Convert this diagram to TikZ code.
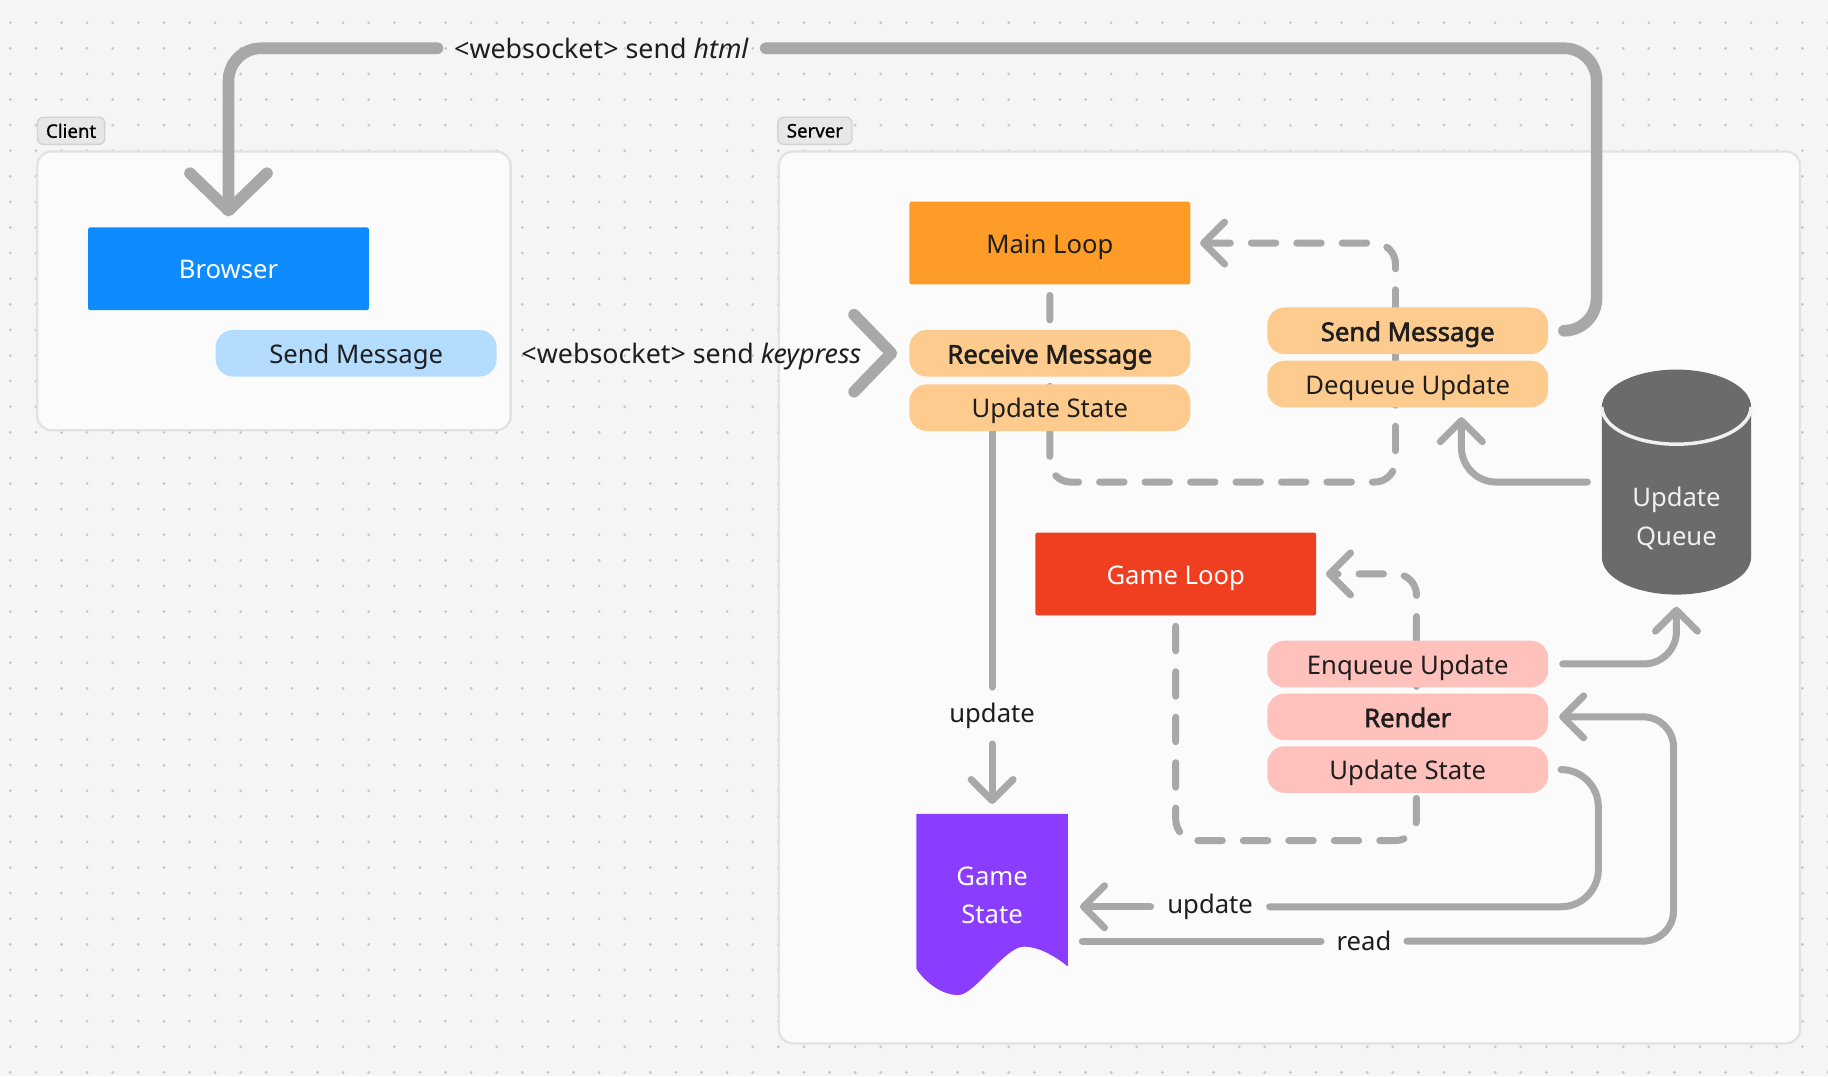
\documentclass[tikz,border=0pt]{standalone}
\usepackage{fontspec}
\setmainfont{Noto Sans}[AutoFakeBold=2.2]
\newfontfamily\tagfont{Noto Sans}[FakeBold=1]
\usetikzlibrary{arrows.meta,calc}
\definecolor{bgc}{HTML}{F5F5F5}
\definecolor{dotc}{HTML}{C6C6C6}
\definecolor{contf}{HTML}{FBFBFB}
\definecolor{contb}{HTML}{E2E2E2}
\definecolor{tagf}{HTML}{E7E7E7}
\definecolor{tagb}{HTML}{D2D2D2}
\definecolor{txt}{HTML}{1E1E1E}
\definecolor{blue1}{HTML}{0D8BFF}
\definecolor{lblue}{HTML}{B4DCFF}
\definecolor{orng}{HTML}{FF9C27}
\definecolor{peach}{HTML}{FECB8F}
\definecolor{redc}{HTML}{F03E20}
\definecolor{pinkc}{HTML}{FFC1BC}
\definecolor{purp}{HTML}{8B3DFF}
\definecolor{qgray}{HTML}{6B6B6B}
\definecolor{connc}{HTML}{A8A8A8}
\definecolor{arcc}{HTML}{F0F0F0}
\pgfdeclarelayer{back}
\pgfdeclarelayer{conns}
\pgfsetlayers{back,conns,main}
\newcommand{\nfont}{\fontsize{11}{16.5}\selectfont}
\newcommand{\wfont}{\fontsize{11.5}{16.5}\selectfont}
\begin{document}
\begin{tikzpicture}[x=0.5pt,y=-0.5pt,
 nbox/.style={minimum width=120.5pt, inner sep=0pt, font=\nfont, text=txt, text height=8.8pt, text depth=0pt},
 bigbox/.style={nbox, minimum height=35.5pt, rounded corners=1pt},
 pill/.style={nbox, minimum height=20pt, rounded corners=7.5pt},
 bld/.style={font=\nfont\bfseries},
 lbl/.style={font=\nfont, text=txt, inner sep=0pt, anchor=base},
 tagbox/.style={draw=tagb, fill=tagf, line width=0.6pt, rounded corners=2.5pt, font=\fontsize{8}{10}\selectfont\tagfont, text=black, inner sep=0pt, minimum height=11.6pt},
 cont/.style={draw=contb, fill=contf, line width=1pt, rounded corners=6pt},
 conn/.style={draw=connc, line width=3pt, line cap=round, line join=round, rounded corners=9pt},
 heavy/.style={conn, line width=5pt, rounded corners=14pt},
 dsh/.style={conn, dash pattern=on 10.5pt off 9pt},
 stip/.style={-{Straight Barb[length=9pt,width=18pt,round]}},
 btip/.style={-{Straight Barb[length=16pt,width=33pt,round]}},
]
\useasboundingbox (0,0) rectangle (1568,923);
\begin{pgfonlayer}{back}
\fill[bgc] (0,0) rectangle (1568,923);
\foreach \i in {0,...,71}{\foreach \j in {0,...,41}{\fill[dotc] (8.83+21.96*\i,19.5+21.96*\j) circle[radius=0.65pt];}}
\draw[cont] (32,130) rectangle (438,369);
\draw[cont] (668,130) rectangle (1544,895);
\end{pgfonlayer}

% tags
\node[tagbox, minimum width=28.8pt] (tclient) at (61,112.2) {Client};
\node[tagbox, minimum width=31.8pt] (tserver) at (699,112.2) {Server};

% client
\node[bigbox, fill=blue1, text=white] (browser) at (196,230.5) {Browser};
\node[pill, fill=lblue] (sm1) at (305.5,303) {Send Message};

% server main loop
\node[bigbox, fill=orng] (ml) at (900.5,208.5) {Main Loop};
\node[pill, fill=peach, bld] (recv) at (900.5,303) {Receive Message};
\node[pill, fill=peach] (us1) at (900.5,349.7) {Update State};
\node[pill, fill=peach, bld] (sm2) at (1207.5,283.7) {Send Message};
\node[pill, fill=peach] (dq) at (1207.5,329.4) {Dequeue Update};

% game loop
\node[bigbox, fill=redc, text=white] (gl) at (1008.5,492.3) {Game Loop};
\node[pill, fill=pinkc] (enq) at (1207.5,569.5) {Enqueue Update};
\node[pill, fill=pinkc, bld] (render) at (1207.5,614.9) {Render};
\node[pill, fill=pinkc] (us2) at (1207.5,660.1) {Update State};

% update queue cylinder
\fill[qgray] (1374,349) -- (1374,478) arc[start angle=180, end angle=360, x radius=32pt, y radius=16pt] -- (1502,349) arc[start angle=0, end angle=180, x radius=32pt, y radius=16pt] -- cycle;
\draw[arcc, line width=1.5pt] (1374,349) arc[start angle=180, end angle=360, x radius=32pt, y radius=16pt];
\node[inner sep=0pt, minimum width=64pt, minimum height=96.5pt] (uq) at (1438,413.5) {};
\node[font=\nfont, text=arcc, align=center, inner sep=0pt] (uqt) at (1438,444.5) {Update\\Queue};

% game state document
\fill[purp] (786,698) -- (916,698) -- (916,829) .. controls (906,821) and (892,812) .. (878,812) .. controls (862,812) and (836,853.5) .. (822,853.5) .. controls (808,853.5) and (794,843) .. (786,831) -- cycle;
\node[inner sep=0pt, font=\nfont, minimum width=65pt, minimum height=70pt, text=white, align=center] (gs) at (851,768) {Game\\State};
\path (gs.center) ++(0,1) coordinate (gsc);

% labels
\node[lbl, font=\wfont] (lhtml) at (516,50) {<websocket> send \textit{html}};
\node[lbl, font=\wfont] (lkey) at (593,311.6) {<websocket> send \textit{keypress}};
\node[lbl, inner ysep=6.5pt] (lupd1) at (851,619.5) {update};
\node[lbl, inner xsep=7pt] (lupd2) at (1038,783.5) {update};
\node[lbl, inner xsep=6.5pt] (lread) at (1170,815.5) {read};

\begin{pgfonlayer}{conns}
% html
\draw[heavy, shorten <=7pt] (sm2.east) -| (1369.5,0 |- lhtml.east) -- ([xshift=7pt]lhtml.east);
\draw[heavy, btip, shorten >=4.5pt] ([xshift=-7pt]lhtml.west) -| (browser.north);
% keypress
\draw[heavy, btip, line cap=butt, dash pattern=on 0pt off 2000pt, shorten >=5pt] (sm1.east) -- (recv.west);
% main loop dashed
\draw[dsh, stip, shorten <=4.5pt, shorten >=4pt] (ml.south) |- (1197,413.5) |- (ml.east);
% game loop dashed
\draw[dsh, stip, shorten <=4.5pt, shorten >=4pt] (gl.south) |- (1215,721) |- (gl.east);
% update state -> game state (vertical)
\draw[conn] (us1.south -| gs.north) -- (lupd1.north);
\draw[conn, stip, shorten >=4pt] (lupd1.south) -- (gs.north);
% queue -> dequeue
\draw[conn, stip, shorten <=6pt, shorten >=4pt, rounded corners=15pt] (uq.west) -| ([xshift=23pt]dq.south);
% enqueue -> queue
\draw[conn, stip, shorten <=6pt, shorten >=5pt, rounded corners=14pt] (enq.east) -| (uq.south);
% update state -> game state
\draw[conn, shorten <=6pt, rounded corners=16pt] (us2.east) -| (1371,0 |- lupd2.east) -- (lupd2.east);
\draw[conn, stip, shorten >=5pt] (lupd2.west) -- (gs.east |- lupd2.west);
% read
\draw[conn, shorten <=6pt] (gs.east |- lread.west) -- (lread.west);
\draw[conn, stip, shorten >=4.5pt, rounded corners=13pt] (lread.east) -| (1435.5,0 |- render.east) -- (render.east);
\end{pgfonlayer}
\end{tikzpicture}
\end{document}
